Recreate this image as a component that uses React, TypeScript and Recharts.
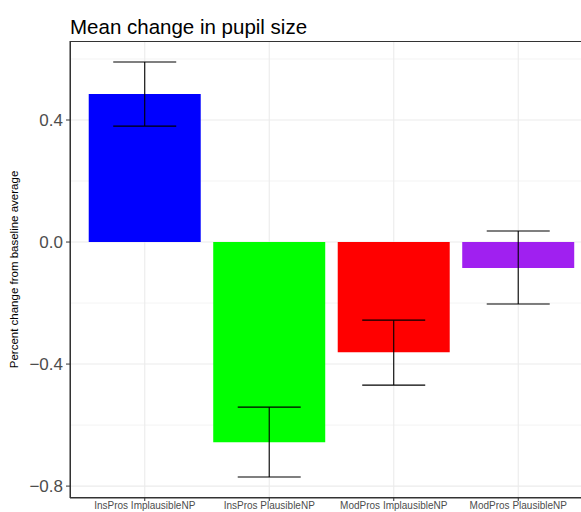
import { BarChart, Bar, Cell, ErrorBar, XAxis, YAxis, CartesianGrid } from "recharts";

const groups = ["InsPros ImplausibleNP", "InsPros PlausibleNP", "ModPros ImplausibleNP", "ModPros PlausibleNP"];
const means = [0.485, -0.656, -0.361, -0.085];
const lower = [0.38, -0.77, -0.469, -0.203];
const upper = [0.59, -0.541, -0.256, 0.036];
const colors = ["#0000FF", "#00FF00", "#FF0000", "#A020F0"];
const yTicks = [-0.8, -0.4, 0, 0.4];
const minorTicks = [-0.6, -0.2, 0.2, 0.6];

const data = groups.map((g, i) => ({
  group: g,
  mean: means[i],
  err: [means[i] - lower[i], upper[i] - means[i]],
}));

const font = "'Liberation Sans', Arial, Helvetica, sans-serif";

function fmt(v: number) {
  const s = Math.abs(v).toFixed(1);
  return v < 0 ? "\u2212" + s : s;
}

export default function App() {
  return (
    <div style={{ position: "relative", width: 581, height: 512, overflow: "hidden", background: "#fff", fontFamily: font }}>
      <style>{"html,body{margin:0;padding:0;overflow:hidden}"}</style>
      <div style={{ position: "absolute", left: 70, top: 15, fontSize: 20.5, color: "#000", lineHeight: "24px", whiteSpace: "nowrap" }}>
        Mean change in pupil size
      </div>
      <div style={{ position: "absolute", top: 0, left: 0 }}>
        <BarChart
          width={600}
          height={530}
          data={data}
          margin={{ top: 41, right: 7, bottom: 18, left: 0 }}
          barCategoryGap="5%"
        >
          <CartesianGrid stroke="#EBEBEB" strokeWidth={0.6} vertical={false} horizontalValues={minorTicks} />
          <CartesianGrid stroke="#EBEBEB" strokeWidth={1.1} horizontalValues={yTicks} />
          <XAxis
            dataKey="group"
            height={14}
            padding={{ left: 12.5, right: 12.5 }}
            tickSize={3}
            tickMargin={1}
            interval={0}
            axisLine={{ stroke: "#333", strokeWidth: 1 }}
            tickLine={{ stroke: "#333" }}
            tick={{ fontSize: 10, fill: "#4D4D4D", fontFamily: font }}
          />
          <YAxis
            type="number"
            domain={[-0.839, 0.659]}
            ticks={yTicks}
            tickFormatter={fmt}
            width={70}
            tickSize={4}
            tickMargin={3}
            allowDataOverflow
            axisLine={{ stroke: "#333", strokeWidth: 1 }}
            tickLine={{ stroke: "#333" }}
            tick={{ fontSize: 17, fill: "#4D4D4D", fontFamily: font }}
            label={{
              value: "Percent change from baseline average",
              angle: -90,
              position: "insideLeft",
              offset: 14,
              style: { textAnchor: "middle", fontSize: 11.5, fill: "#000", fontFamily: font },
            }}
          />
          <Bar dataKey="mean" isAnimationActive={false}>
            {data.map((d, i) => (
              <Cell key={d.group} fill={colors[i]} />
            ))}
            <ErrorBar dataKey="err" width={31.5} stroke="#000" strokeWidth={1.1} isAnimationActive={false} />
          </Bar>
        </BarChart>
      </div>
      <div style={{ position: "absolute", left: 70, top: 41, width: 523, height: 457, borderTop: "1px solid #333", borderLeft: "1px solid #333", borderBottom: "1px solid #333", boxSizing: "border-box", pointerEvents: "none" }} />
    </div>
  );
}
